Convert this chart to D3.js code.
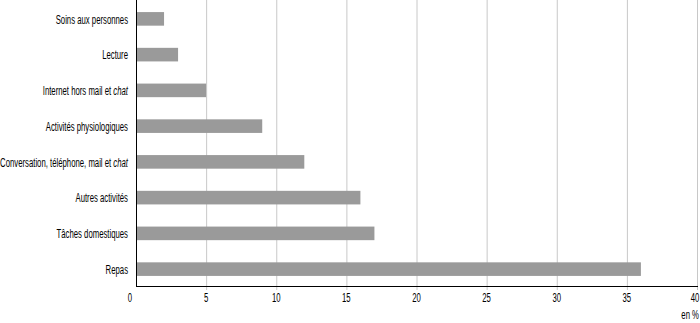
<!DOCTYPE html>
<html>
<head>
<meta charset="utf-8">
<script src="https://cdn.jsdelivr.net/npm/d3@7"></script>
<style>
  body { margin: 0; background: #fff; }
  svg text { font-family: "Liberation Sans", Arial, sans-serif; font-size: 13.5px; fill: #000; }
</style>
</head>
<body>
<svg id="chart" width="700" height="323"></svg>
<script>
// categories top to bottom; italic part kept separately
const categories = [
  ['Soins aux personnes', ''],
  ['Lecture', ''],
  ['Internet hors mail et ', 'chat'],
  ['Activités physiologiques', ''],
  ['Conversation, téléphone, mail et ', 'chat'],
  ['Autres activités', ''],
  ['Tâches domestiques', ''],
  ['Repas', '']
];
const values = [2, 3, 5, 9, 12, 16, 17, 36];
const ticks = [0, 5, 10, 15, 20, 25, 30, 35, 40];

const svg = d3.select('#chart');
const x = d3.scaleLinear().domain([0, 40]).range([136, 697]);
const y = d3.scaleBand().domain(d3.range(categories.length)).range([1, 287]).paddingInner(0.62).paddingOuter(0.31);

// gridlines
svg.append('g').selectAll('line').data(ticks.slice(1)).join('line')
  .attr('x1', d => x(d) + 0.5).attr('x2', d => x(d) + 0.5)
  .attr('y1', 0).attr('y2', 290)
  .attr('stroke', '#c8c8c8').attr('stroke-width', 1);

// bars
svg.append('g').selectAll('rect').data(values).join('rect')
  .attr('x', x(0)).attr('y', (d, i) => y(i))
  .attr('width', d => x(d) - x(0)).attr('height', y.bandwidth())
  .attr('fill', '#9a9a9a');

// axes
svg.append('line').attr('x1', x(0) + 0.5).attr('x2', x(0) + 0.5).attr('y1', 0).attr('y2', 287)
  .attr('stroke', '#000');
svg.append('line').attr('x1', x(0)).attr('x2', x(40) + 1).attr('y1', 286.5).attr('y2', 286.5)
  .attr('stroke', '#000');

// condensed look: squeeze the text so the longest label fits in front of the axis
const probe = svg.append('text');
probe.append('tspan').text(categories[4][0]);
probe.append('tspan').attr('font-style', 'italic').text(categories[4][1]);
const w = probe.node().getComputedTextLength();
probe.remove();
const sx = Math.min(1, 128 / w);

function place(sel, fx, fy) {
  sel.attr('transform', (d, i) => `translate(${fx(d, i)},${fy(d, i)}) scale(${sx},1)`);
}

// x tick labels
svg.append('g').selectAll('text').data(ticks).join('text')
  .attr('text-anchor', 'middle')
  .text(d => d)
  .call(place, d => d === 0 ? x(d) - 6 : (d === 40 ? x(d) - 2 : x(d)), () => 302);

svg.append('text').attr('text-anchor', 'end').text('en  %')
  .call(place, () => 699, () => 319);

// category labels
const lab = svg.append('g').selectAll('text').data(categories).join('text')
  .attr('dy', '0.35em').attr('text-anchor', 'end')
  .call(place, () => 128, (d, i) => y(i) + y.bandwidth() / 2);
lab.append('tspan').text(d => d[0]);
lab.filter(d => d[1]).append('tspan').attr('font-style', 'italic').text(d => d[1]);
</script>
</body>
</html>
